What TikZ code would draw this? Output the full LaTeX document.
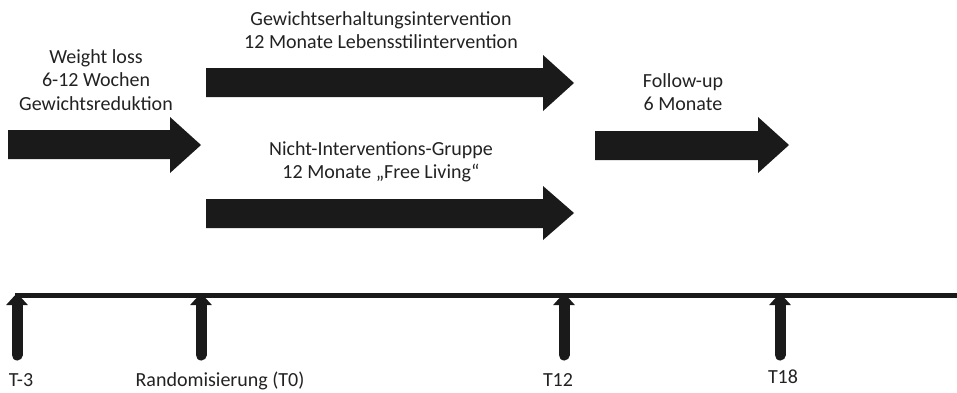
\documentclass[tikz,border=0pt]{standalone}
\usepackage{fontspec}
\setmainfont{Carlito}
\usetikzlibrary{arrows.meta}
\definecolor{ink}{HTML}{1A1A1A}
\definecolor{txt}{HTML}{222222}
\tikzset{
  lbl/.style={align=center, text=txt, font=\fontsize{20}{23.5}\selectfont, inner sep=0pt},
  tlbl/.style={text=txt, font=\fontsize{20}{23.5}\selectfont, inner sep=0pt, anchor=base},
  bigarrow/.style={fill=ink, draw=none},
  tick/.style={draw=ink, line width=11pt, line cap=round, -{Triangle[width=21pt,length=12pt]}},
}
\newcommand{\bigarr}[6]{%
  \fill[bigarrow] (#1,#2) -- (#4,#2) -- (#4,#5) -- ({#4+31},{(#5+#6)/2}) -- (#4,#6) -- (#4,#3) -- (#1,#3) -- cycle;}
\begin{document}
\begin{tikzpicture}[x=1pt,y=-1pt]
\useasboundingbox (0,0) rectangle (957,392);
% big arrows
\bigarr{8}{130}{159}{170}{117}{173}{}
\bigarr{206}{68}{97}{543}{55}{111}{}
\bigarr{206}{199}{228}{543}{186}{240}{}
\bigarr{595}{131}{160}{758}{117}{173}{}
% labels
\node[lbl] (wl) at (96,80) {Weight loss\\6-12 Wochen\\Gewichtsreduktion};
\node[lbl] (gi) at (381,30) {Gewichtserhaltungsintervention\\12 Monate Lebensstilintervention};
\node[lbl] (ni) at (381,162) {Nicht-Interventions-Gruppe\\12 Monate „Free Living“};
\node[lbl] (fu) at (683,92) {Follow-up\\6 Monate};
% timeline
\coordinate (tl0) at (15,295);
\coordinate (tl1) at (957,295);
\draw[ink, line width=5pt] (tl0) -- (tl1);
\coordinate (a0) at (17,355); \coordinate (b0) at (17,293);
\coordinate (a1) at (201,355); \coordinate (b1) at (201,293);
\coordinate (a2) at (564,355); \coordinate (b2) at (564,293);
\coordinate (a3) at (780,355); \coordinate (b3) at (780,293);
\draw[tick] (a0) -- (b0);
\draw[tick] (a1) -- (b1);
\draw[tick] (a2) -- (b2);
\draw[tick] (a3) -- (b3);
\node[tlbl] (t0) at (21,386) {T-3};
\node[tlbl] (t1) at (220,386) {Randomisierung (T0)};
\node[tlbl] (t2) at (558,386) {T12};
\node[tlbl] (t3) at (783,383) {T18};
\end{tikzpicture}
\end{document}
